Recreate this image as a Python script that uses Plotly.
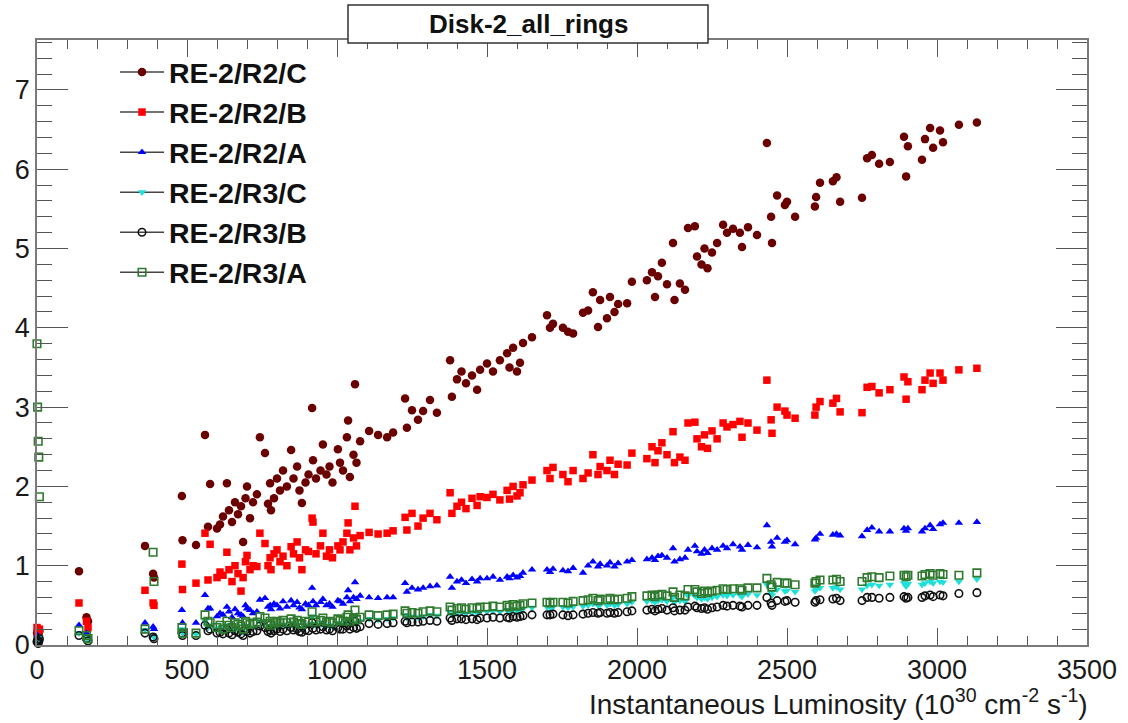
import plotly.graph_objects as go

# Instantaneous luminosity per run (10^30 cm^-2 s^-1)
lumi = [0, 2, 4, 6, 8, 140, 165, 170, 360, 387, 390, 483, 485, 530, 560, 570, 577, 600, 610, 620,
        633, 640, 650, 660, 670, 680, 687, 695, 700, 710, 720, 733, 743, 760, 770, 777, 780, 790, 800, 810,
        820, 833, 847, 855, 867, 875, 883, 895, 905, 917, 920, 930, 945, 953, 965, 975, 985, 1003, 1010, 1020,
        1033, 1037, 1043, 1055, 1060, 1065, 1077, 1107, 1137, 1167, 1187, 1227, 1233, 1250, 1270, 1287, 1310, 1333, 1377, 1383,
        1400, 1415, 1430, 1450, 1467, 1477, 1500, 1520, 1543, 1567, 1575, 1587, 1600, 1610, 1620, 1650, 1700, 1710, 1720, 1753,
        1770, 1787, 1820, 1837, 1853, 1870, 1877, 1900, 1910, 1925, 1937, 1967, 1983, 2033, 2050, 2060, 2070, 2083, 2100, 2120,
        2125, 2143, 2160, 2170, 2193, 2200, 2215, 2225, 2235, 2250, 2267, 2287, 2300, 2320, 2343, 2350, 2370, 2400, 2433, 2447,
        2450, 2467, 2493, 2500, 2527, 2593, 2597, 2610, 2653, 2665, 2677, 2750, 2767, 2783, 2807, 2843, 2890, 2897, 2903, 2950,
        2960, 2977, 2987, 3010, 3020, 3073, 3133]

re2_r2_c = [0.15, 0.10, 0.20, 0.12, 0.18, 0.93, 0.35, 0.30, 1.25, 0.90, 0.85, 1.88, 1.32, 1.26, 2.65, 1.49, 2.03, 1.47, 1.52, 1.62,
            2.04, 1.70, 1.55, 1.80, 1.65, 1.75, 1.30, 1.85, 2.00, 1.60, 1.80, 1.90, 2.62, 2.42, 1.78, 2.04, 1.70, 1.85, 2.10, 1.95,
            2.20, 2.00, 2.46, 2.10, 2.25, 1.95, 1.79, 2.05, 2.15, 2.99, 2.33, 2.10, 2.20, 2.53, 2.15, 2.25, 2.05, 2.47, 2.30, 2.20,
            2.62, 2.83, 2.12, 2.40, 3.29, 2.30, 2.57, 2.70, 2.65, 2.62, 2.68, 3.11, 2.74, 2.96, 2.84, 2.95, 3.09, 2.93, 3.59, 3.13,
            3.35, 3.45, 3.30, 3.40, 3.22, 3.47, 3.55, 3.45, 3.59, 3.68, 3.50, 3.75, 3.45, 3.56, 3.81, 3.88, 4.16, 4.00, 4.05, 4.00,
            3.95, 3.93, 4.19, 4.22, 4.45, 4.01, 4.35, 4.12, 4.39, 4.20, 4.30, 4.31, 4.58, 4.60, 4.70, 4.39, 4.65, 4.82, 4.55, 5.07,
            4.35, 4.56, 4.48, 5.26, 5.28, 4.90, 4.80, 5.00, 4.75, 4.95, 5.07, 5.30, 5.20, 5.25, 5.20, 5.02, 5.27, 5.17, 6.33, 5.40,
            5.07, 5.67, 5.55, 5.59, 5.40, 5.53, 5.65, 5.83, 5.85, 5.90, 5.59, 5.64, 6.14, 6.18, 6.07, 6.09, 6.41, 5.91, 6.29, 6.12,
            6.38, 6.52, 6.27, 6.49, 6.34, 6.56, 6.59]

re2_r2_b = [0.22, 0.15, 0.18, 0.10, 0.20, 0.53, 0.30, 0.22, 0.69, 0.53, 0.50, 1.02, 0.70, 0.78, 1.41, 0.82, 1.27, 0.85, 0.92, 0.88,
            1.17, 0.95, 0.80, 1.00, 0.90, 0.68, 0.85, 1.05, 1.13, 0.95, 1.00, 0.99, 1.41, 1.28, 1.00, 1.10, 0.95, 1.15, 1.20, 1.05,
            1.12, 1.00, 1.24, 1.15, 1.30, 1.10, 0.95, 1.20, 1.18, 1.60, 1.55, 1.15, 1.25, 1.41, 1.12, 1.20, 1.10, 1.25, 1.20, 1.30,
            1.41, 1.54, 1.20, 1.35, 1.75, 1.25, 1.38, 1.42, 1.40, 1.41, 1.44, 1.61, 1.45, 1.66, 1.50, 1.60, 1.66, 1.58, 1.92, 1.66,
            1.75, 1.80, 1.72, 1.85, 1.76, 1.87, 1.86, 1.90, 1.83, 1.95, 1.84, 2.00, 1.88, 1.92, 2.02, 2.08, 2.20, 2.10, 2.24, 2.15,
            2.06, 2.20, 2.10, 2.17, 2.40, 2.15, 2.25, 2.20, 2.33, 2.15, 2.28, 2.27, 2.42, 2.35, 2.50, 2.30, 2.45, 2.55, 2.40, 2.69,
            2.30, 2.37, 2.33, 2.80, 2.81, 2.60, 2.50, 2.65, 2.48, 2.70, 2.60, 2.80, 2.75, 2.78, 2.82, 2.62, 2.80, 2.71, 3.34, 2.84,
            2.67, 3.00, 2.95, 2.90, 2.86, 2.90, 3.00, 3.07, 3.05, 3.11, 2.94, 2.93, 3.25, 3.26, 3.18, 3.22, 3.38, 3.10, 3.32, 3.22,
            3.34, 3.43, 3.30, 3.43, 3.34, 3.47, 3.49]

re2_r2_a = [0.08, 0.12, 0.05, 0.10, 0.07, 0.25, 0.15, 0.12, 0.28, 0.23, 0.20, 0.44, 0.28, 0.28, 0.63, 0.46, 0.46, 0.36, 0.40, 0.38,
            0.48, 0.42, 0.35, 0.45, 0.40, 0.38, 0.36, 0.50, 0.46, 0.44, 0.40, 0.42, 0.57, 0.59, 0.48, 0.50, 0.45, 0.52, 0.50, 0.46,
            0.55, 0.48, 0.56, 0.50, 0.54, 0.47, 0.45, 0.52, 0.50, 0.72, 0.55, 0.50, 0.54, 0.58, 0.50, 0.52, 0.48, 0.56, 0.55, 0.52,
            0.60, 0.69, 0.55, 0.60, 0.79, 0.58, 0.62, 0.60, 0.59, 0.60, 0.60, 0.78, 0.67, 0.72, 0.70, 0.72, 0.74, 0.75, 0.86, 0.72,
            0.80, 0.82, 0.78, 0.83, 0.80, 0.84, 0.84, 0.86, 0.82, 0.86, 0.84, 0.88, 0.85, 0.87, 0.91, 0.95, 0.95, 0.92, 0.96, 0.94,
            0.93, 0.97, 0.91, 1.00, 1.05, 0.99, 1.02, 1.00, 1.04, 0.99, 1.03, 1.05, 1.07, 1.08, 1.10, 1.07, 1.12, 1.13, 1.10, 1.22,
            1.05, 1.08, 1.10, 1.20, 1.25, 1.18, 1.15, 1.20, 1.16, 1.22, 1.20, 1.25, 1.22, 1.27, 1.24, 1.20, 1.26, 1.23, 1.51, 1.30,
            1.24, 1.35, 1.30, 1.32, 1.27, 1.33, 1.35, 1.40, 1.39, 1.40, 1.38, 1.37, 1.45, 1.48, 1.43, 1.43, 1.47, 1.44, 1.47, 1.43,
            1.47, 1.51, 1.46, 1.52, 1.54, 1.54, 1.55]

re2_r3_c = [0.05, 0.08, 0.03, 0.06, 0.10, 0.15, 0.10, 0.06, 0.19, 0.12, 0.10, 0.20, 0.15, 0.14, 0.30, 0.22, 0.25, 0.20, 0.22, 0.18,
            0.25, 0.20, 0.18, 0.22, 0.20, 0.18, 0.16, 0.24, 0.22, 0.20, 0.22, 0.23, 0.30, 0.28, 0.22, 0.24, 0.20, 0.23, 0.25, 0.22,
            0.26, 0.23, 0.28, 0.24, 0.26, 0.22, 0.21, 0.25, 0.24, 0.36, 0.27, 0.24, 0.26, 0.29, 0.24, 0.25, 0.23, 0.28, 0.26, 0.25,
            0.30, 0.33, 0.26, 0.28, 0.38, 0.27, 0.30, 0.33, 0.32, 0.33, 0.34, 0.38, 0.34, 0.36, 0.35, 0.36, 0.38, 0.37, 0.42, 0.38,
            0.40, 0.41, 0.40, 0.41, 0.40, 0.42, 0.42, 0.43, 0.42, 0.44, 0.42, 0.45, 0.43, 0.44, 0.46, 0.47, 0.48, 0.47, 0.48, 0.48,
            0.47, 0.48, 0.49, 0.50, 0.52, 0.50, 0.51, 0.50, 0.52, 0.50, 0.51, 0.52, 0.54, 0.55, 0.56, 0.54, 0.56, 0.57, 0.55, 0.60,
            0.54, 0.56, 0.55, 0.62, 0.62, 0.60, 0.58, 0.60, 0.58, 0.60, 0.61, 0.63, 0.62, 0.63, 0.63, 0.61, 0.64, 0.63, 0.76, 0.66,
            0.63, 0.70, 0.68, 0.69, 0.67, 0.68, 0.70, 0.72, 0.72, 0.73, 0.70, 0.70, 0.75, 0.76, 0.75, 0.76, 0.78, 0.74, 0.77, 0.76,
            0.78, 0.80, 0.78, 0.80, 0.79, 0.80, 0.83]

re2_r3_b = [0.04, 0.06, 0.02, 0.05, 0.08, 0.12, 0.08, 0.05, 0.15, 0.10, 0.08, 0.15, 0.12, 0.12, 0.25, 0.18, 0.20, 0.15, 0.16, 0.14,
            0.20, 0.15, 0.13, 0.18, 0.16, 0.14, 0.12, 0.19, 0.17, 0.15, 0.17, 0.18, 0.24, 0.22, 0.17, 0.19, 0.15, 0.18, 0.20, 0.17,
            0.20, 0.18, 0.22, 0.19, 0.20, 0.17, 0.16, 0.19, 0.18, 0.28, 0.21, 0.19, 0.20, 0.23, 0.19, 0.20, 0.18, 0.22, 0.20, 0.20,
            0.24, 0.26, 0.20, 0.22, 0.30, 0.21, 0.23, 0.27, 0.26, 0.27, 0.28, 0.30, 0.28, 0.29, 0.29, 0.30, 0.31, 0.30, 0.34, 0.31,
            0.33, 0.33, 0.32, 0.33, 0.32, 0.34, 0.34, 0.35, 0.34, 0.35, 0.34, 0.36, 0.35, 0.36, 0.37, 0.38, 0.38, 0.38, 0.39, 0.38,
            0.37, 0.38, 0.39, 0.40, 0.41, 0.40, 0.41, 0.40, 0.41, 0.40, 0.41, 0.42, 0.43, 0.44, 0.45, 0.43, 0.45, 0.46, 0.44, 0.47,
            0.43, 0.44, 0.44, 0.48, 0.49, 0.47, 0.46, 0.47, 0.45, 0.47, 0.48, 0.50, 0.49, 0.50, 0.49, 0.48, 0.50, 0.50, 0.60, 0.53,
            0.50, 0.56, 0.55, 0.56, 0.54, 0.54, 0.56, 0.57, 0.58, 0.59, 0.56, 0.56, 0.60, 0.60, 0.59, 0.60, 0.61, 0.59, 0.60, 0.60,
            0.62, 0.63, 0.61, 0.63, 0.62, 0.65, 0.66]

re2_r3_a = [3.80, 3.00, 2.57, 2.37, 1.87, 0.18, 0.12, 0.08, 0.20, 1.17, 0.80, 0.22, 0.15, 0.15, 0.38, 0.30, 0.28, 0.22, 0.25, 0.20,
            0.30, 0.25, 0.22, 0.28, 0.26, 0.24, 0.20, 0.30, 0.28, 0.26, 0.27, 0.29, 0.36, 0.34, 0.27, 0.30, 0.25, 0.28, 0.30, 0.28,
            0.31, 0.28, 0.33, 0.29, 0.31, 0.27, 0.26, 0.30, 0.29, 0.42, 0.32, 0.29, 0.31, 0.34, 0.29, 0.30, 0.28, 0.33, 0.31, 0.30,
            0.35, 0.38, 0.30, 0.33, 0.44, 0.32, 0.35, 0.38, 0.37, 0.38, 0.39, 0.43, 0.40, 0.41, 0.40, 0.42, 0.43, 0.42, 0.48, 0.44,
            0.46, 0.47, 0.45, 0.47, 0.46, 0.48, 0.48, 0.49, 0.48, 0.50, 0.48, 0.51, 0.49, 0.50, 0.52, 0.53, 0.54, 0.53, 0.54, 0.54,
            0.53, 0.55, 0.56, 0.57, 0.59, 0.56, 0.58, 0.57, 0.59, 0.57, 0.58, 0.59, 0.61, 0.62, 0.63, 0.61, 0.63, 0.64, 0.62, 0.67,
            0.60, 0.63, 0.62, 0.70, 0.70, 0.67, 0.65, 0.68, 0.66, 0.68, 0.69, 0.71, 0.70, 0.71, 0.71, 0.69, 0.72, 0.72, 0.84, 0.76,
            0.73, 0.79, 0.78, 0.78, 0.76, 0.78, 0.80, 0.82, 0.82, 0.83, 0.80, 0.80, 0.85, 0.86, 0.85, 0.87, 0.88, 0.86, 0.88, 0.87,
            0.89, 0.90, 0.88, 0.90, 0.89, 0.88, 0.91]

series_names = ["RE-2/R2/C", "RE-2/R2/B", "RE-2/R2/A", "RE-2/R3/C", "RE-2/R3/B", "RE-2/R3/A"]
series_values = [re2_r2_c, re2_r2_b, re2_r2_a, re2_r3_c, re2_r3_b, re2_r3_a]
styles = [
    dict(symbol="circle", color="#6a0000", size=8.5, line=dict(width=0)),
    dict(symbol="square", color="#ff0000", size=7.5, line=dict(width=0)),
    dict(symbol="triangle-up", color="#0000ff", size=7.5, line=dict(width=0)),
    dict(symbol="triangle-down", color="#1fe0d8", size=7.5, line=dict(width=0)),
    dict(symbol="circle-open", color="#111111", size=7.5, line=dict(width=1.6, color="#111111")),
    dict(symbol="square-open", color="#2f7a2f", size=7.5, line=dict(width=1.6, color="#2f7a2f")),
]

fig = go.Figure()
for name, vals, st in zip(series_names, series_values, styles):
    fig.add_trace(go.Scatter(x=lumi, y=vals, mode="markers", name=name, marker=st,
                             showlegend=False, cliponaxis=False))
# legend entries (ROOT-style: line through marker)
for name, st in zip(series_names, styles):
    fig.add_trace(go.Scatter(x=[None], y=[None], mode="lines+markers", name=name, marker=st,
                             line=dict(color="#444444", width=1.5), showlegend=True))

W, H = 1128, 723
L, R, T, B = 37, 41, 40, 78
pw, ph = W - L - R, H - T - B

def px2paper_x(px):
    return (px - L) / pw

def px2paper_y(py):
    return (H - B - py) / ph

axis_common = dict(showgrid=False, zeroline=False, showline=True, linecolor="#7a7a7a", linewidth=1.5,
                   mirror="ticks", ticks="inside", tickcolor="#555555", tickwidth=1.2,
                   tickfont=dict(family="Liberation Sans, Arial", size=27, color="#1a1a1a"))

fig.update_layout(
    width=W, height=H,
    margin=dict(l=L, r=R, t=T, b=B),
    paper_bgcolor="white", plot_bgcolor="white",
    xaxis=dict(range=[0, 3500], tickvals=[0, 500, 1000, 1500, 2000, 2500, 3000, 3500], ticklen=17,
               minor=dict(dtick=100, ticklen=9, ticks="inside", tickcolor="#555555"), **axis_common),
    yaxis=dict(range=[0, 7.63], tickvals=[0, 1, 2, 3, 4, 5, 6, 7], ticklen=31,
               minor=dict(dtick=0.2, ticklen=15, ticks="inside", tickcolor="#555555"), **axis_common),
    legend=dict(x=px2paper_x(115), y=px2paper_y(47), xanchor="left", yanchor="top",
                bgcolor="rgba(255,255,255,0)", borderwidth=0, itemwidth=44,
                font=dict(family="Liberation Sans, Arial", size=28.5, color="#111111", weight="bold"),
                tracegroupgap=0),
)

fig.add_shape(type="rect", xref="paper", yref="paper",
              x0=px2paper_x(348), x1=px2paper_x(708), y0=px2paper_y(43), y1=px2paper_y(5),
              line=dict(color="#333333", width=1.5), fillcolor="white", layer="above")
fig.add_annotation(text="<b>Disk-2_all_rings</b>", xref="paper", yref="paper",
                   x=px2paper_x(528), y=px2paper_y(24), xanchor="center", yanchor="middle",
                   showarrow=False, font=dict(family="Liberation Sans, Arial", size=26, color="#111111"))
fig.add_annotation(text="Instantaneous Luminosity (10<sup>30</sup> cm<sup>-2</sup> s<sup>-1</sup>)",
                   xref="paper", yref="paper", x=px2paper_x(1090), y=px2paper_y(702),
                   xanchor="right", yanchor="middle", showarrow=False,
                   font=dict(family="Liberation Sans, Arial", size=28, color="#1a1a1a"))

fig.write_html("out.html")
